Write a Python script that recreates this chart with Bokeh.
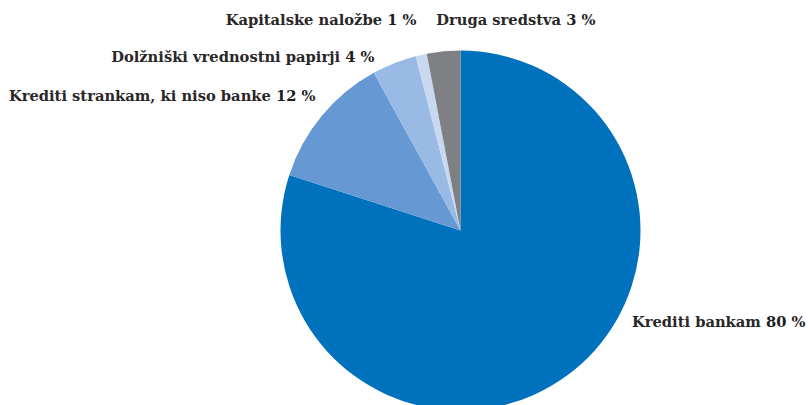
import math
from bokeh.plotting import figure
from bokeh.models import ColumnDataSource, Range1d
from bokeh.core.properties import value
from bokeh.embed import file_html
from bokeh.resources import INLINE

categories = ["Krediti bankam", "Krediti strankam, ki niso banke",
              "Dolžniški vrednostni papirji", "Kapitalske naložbe", "Druga sredstva"]
shares = [80, 12, 4, 1, 3]
colors = ["#0071BC", "#6699D4", "#99BAE4", "#C8D8F0", "#7E8084"]

# label anchors (right end of text, screen px), style only
label_right = [805, 315, 374, 416, 595]
label_mid_y = [321, 95, 56, 19, 19]

W, H = 808, 405
cx, cy, r = 460, H - 230, 180
FS = 14.7

total = sum(shares)
starts, ends = [], []
cum = 0.0
for s in shares:
    starts.append(math.pi / 2 - 2 * math.pi * cum / total)
    cum += s
    ends.append(math.pi / 2 - 2 * math.pi * cum / total)

p = figure(width=W, height=H, output_backend="svg", toolbar_location=None,
           x_range=Range1d(0, W), y_range=Range1d(0, H), min_border=0)
p.axis.visible = False
p.grid.visible = False
p.outline_line_color = None
p.background_fill_color = "white"

src = ColumnDataSource(dict(start=starts, end=ends, color=colors))
p.wedge(x=cx, y=cy, radius=r, start_angle="start", end_angle="end",
        direction="clock", fill_color="color", line_color=None, source=src)

num_txt = [f"{s} %" for s in shares]
# approximate bold DejaVu Serif advance widths (em): digit 0.696, space 0.348, percent ~0.95
num_w = [FS * (len(str(s)) * 0.696 + 0.348 + 0.95) for s in shares]
ys = [H - y for y in label_mid_y]

p.text(x=label_right, y=ys, text=num_txt, text_align="right", text_baseline="middle",
       text_font=value("DejaVu Serif"), text_font_style="bold",
       text_font_size=f"{FS}px", text_color="#1E1C1D")
for i, name in enumerate(categories):
    p.text(x=[label_right[i]], y=[ys[i]], text=[name], text_align="right",
           text_baseline="middle", x_offset=-(num_w[i] + FS * 0.348),
           text_font=value("DejaVu Serif"), text_font_style="bold",
           text_font_size=f"{FS}px", text_color="#2A2728")

open("out.html", "w").write(file_html(p, INLINE))
